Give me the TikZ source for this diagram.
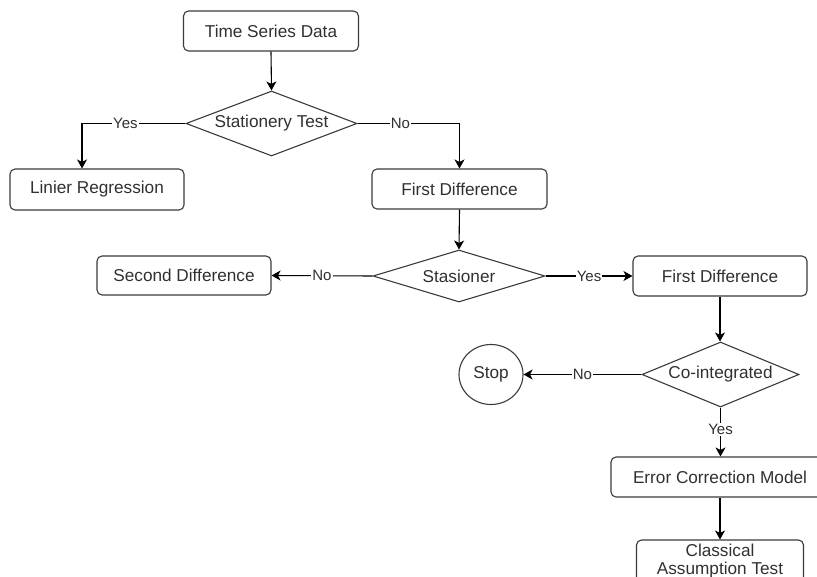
\documentclass[tikz,border=0pt]{standalone}
\usepackage{fontspec}
\setmainfont{Liberation Sans}
\usetikzlibrary{shapes.geometric,arrows.meta}
\definecolor{bord}{HTML}{3A3A3A}
\definecolor{txt}{HTML}{303030}
\tikzset{
  box/.style={draw=bord, line width=1.1pt, rounded corners=5pt, minimum height=40pt, inner sep=0pt, text=txt, font=\fontsize{17.2}{19}\selectfont, align=center},
  dia/.style={draw=bord, line width=1.1pt, diamond, inner sep=0pt, text=txt, font=\fontsize{17.2}{19}\selectfont},
  arr/.style={draw=black, line width=1.1pt, -{Stealth[length=9pt,width=10pt,inset=2.5pt]}},
  lbl/.style={fill=white, inner sep=1pt, text=txt, font=\fontsize{15}{16}\selectfont}
}
\begin{document}
\begin{tikzpicture}[x=1pt,y=-1pt]
\useasboundingbox (0,0) rectangle (817,577);
\clip (0,0) rectangle (817,577);
\node[box, minimum width=175pt] (tsd) at (271,31) {Time Series Data};
\node[dia, minimum width=171pt, minimum height=65pt, aspect=2.6] (st) at (271.5,123.5) {Stationery Test};
\node[box, minimum width=174pt, minimum height=41pt] (lr) at (97,189.5) {Linier Regression};
\node[box, minimum width=175pt] (fd1) at (459.5,189) {First Difference};
\node[dia, minimum width=172pt, minimum height=52pt, aspect=3.3] (sta) at (459,276) {Stasioner};
\node[box, minimum width=174pt, minimum height=39pt] (sd) at (184,275.5) {Second Difference};
\node[box, minimum width=174pt] (fd2) at (720,276) {First Difference};
\node[dia, minimum width=157pt, minimum height=65pt, aspect=2.4] (co) at (720.5,374.5) {Co-integrated};
\node[draw=bord, line width=1.1pt, ellipse, minimum width=64pt, minimum height=60pt, inner sep=0pt, text=txt, font=\fontsize{17.2}{19}\selectfont] (stop) at (491,374.5) {Stop};
\node[box, minimum width=218pt] (ecm) at (720,477) {Error Correction Model};
\node[box, minimum width=167pt, minimum height=42pt, font=\fontsize{17.2}{18}\selectfont] (cat) at (720,561) {Classical\\Assumption Test};
\coordinate (c1) at (82,123.5);
\draw[arr] (tsd.south) -- (st.north);
\draw[arr] (st.west) -- node[lbl, pos=0.58] {Yes} (c1) -- (c1 |- lr.north);
\draw[arr] (st.east) -- node[lbl, pos=0.42] {No} (fd1.north |- st.east) -- (fd1.north);
\draw[arr] (fd1.south) -- (sta.north);
\draw[arr] (sta.west) -- node[lbl] {No} (sd.east);
\draw[arr] (sta.east) -- node[lbl] {Yes} (fd2.west);
\draw[arr] (fd2.south) -- (fd2.south |- co.north);
\draw[arr] (co.west) -- node[lbl] {No} (stop.east);
\draw[arr] (co.south) -- node[lbl, pos=0.45] {Yes} (co.south |- ecm.north);
\draw[arr] (ecm.south) -- (ecm.south |- cat.north);
\end{tikzpicture}
\end{document}
